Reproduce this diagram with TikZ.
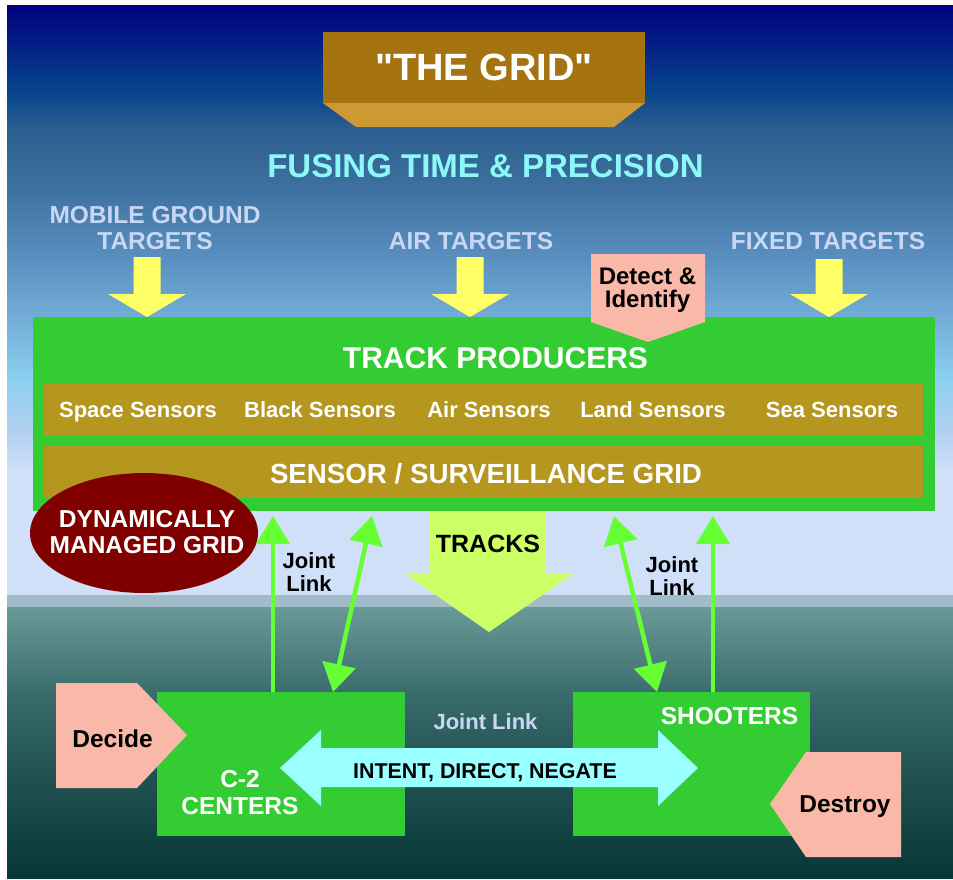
\documentclass[tikz,border=0pt]{standalone}
\usepackage{fontspec}
\setmainfont{Liberation Sans}[Ligatures=TeXOff]
\usetikzlibrary{arrows.meta,shapes.geometric}
\definecolor{gridtop}{HTML}{A67311}
\definecolor{gridbot}{HTML}{CC9933}
\definecolor{fusecol}{HTML}{8CF8F8}
\definecolor{targcol}{HTML}{C8D8F4}
\definecolor{yelarr}{HTML}{FFFF66}
\definecolor{boxgreen}{HTML}{33CC33}
\definecolor{bandgold}{HTML}{B5961F}
\definecolor{pinkbox}{HTML}{F9B8A8}
\definecolor{darkred}{HTML}{800000}
\definecolor{tracksc}{HTML}{CCFF66}
\definecolor{arrgreen}{HTML}{66FF33}
\definecolor{cyanarr}{HTML}{99FFFF}
\newcommand\bgband[4]{\shade[top color=#3,bottom color=#4] (7,#1) rectangle (953,#2);}
\begin{document}
\begin{tikzpicture}[x=1pt,y=-1pt,
  every node/.style={inner sep=0pt,outer sep=0pt},
  lbl/.style={font=\bfseries\fontsize{24.5}{26}\selectfont},
  sens/.style={anchor=base,text=white,font=\bfseries\fontsize{22}{24}\selectfont},
  blockbox/.style={anchor=north west,fill=boxgreen},
  goldband/.style={anchor=north west,fill=bandgold,minimum width=879pt,minimum height=52pt},
  garrow/.style={draw=arrgreen,line width=4.5pt,-{Triangle[length=28pt,width=33pt]}},
  gdarrow/.style={draw=arrgreen,line width=4.5pt,{Triangle[length=28pt,width=33pt]}-{Triangle[length=28pt,width=33pt]}}]
\useasboundingbox (0,0) rectangle (953,879);
\fill[white] (0,0) rectangle (953,879);
% background gradient
\definecolor{b0}{HTML}{000080}
\definecolor{b1}{HTML}{08488C}
\definecolor{b2}{HTML}{2A5C8E}
\definecolor{b3}{HTML}{3C6E9C}
\definecolor{b4}{HTML}{5A90C0}
\definecolor{b5}{HTML}{78B4DC}
\definecolor{b6}{HTML}{8CD0F0}
\definecolor{b7}{HTML}{B0D0F0}
\definecolor{b8}{HTML}{D0E0F8}
\definecolor{g0}{HTML}{A0BCC8}
\definecolor{g1}{HTML}{6A9A98}
\definecolor{g2}{HTML}{386A6A}
\definecolor{g3}{HTML}{205050}
\definecolor{g4}{HTML}{083636}
\bgband{5}{95.5}{b0}{b1}
\bgband{95}{125.5}{b1}{b2}
\bgband{125}{180.5}{b2}{b3}
\bgband{180}{260.5}{b3}{b4}
\bgband{260}{330.5}{b4}{b5}
\bgband{330}{380.5}{b5}{b6}
\bgband{380}{430.5}{b6}{b7}
\bgband{430}{470.5}{b7}{b8}
\fill[b8] (7,470) rectangle (953,595.5);
\fill[g0] (7,595) rectangle (953,607.5);
\bgband{607}{697.5}{g1}{g2}
\bgband{697}{780.5}{g2}{g3}
\bgband{780}{878}{g3}{g4}
% title
\node[anchor=north west,fill=gridtop,minimum width=322pt,minimum height=71pt] (titlebox) at (323,32) {};
\fill[gridbot] (titlebox.south west) -- (titlebox.south east) -- (614,127) -- (356,127) -- cycle;
\node[anchor=base,text=white,font=\bfseries\fontsize{38}{40}\selectfont] (title) at (484,80) {"THE GRID"};
\node[anchor=base,text=fusecol,font=\bfseries\fontsize{33}{35}\selectfont] (fusing) at (485.5,177) {FUSING TIME \& PRECISION};
% targets
\node[anchor=base,text=targcol,lbl,align=center] (mgt) at (155,249) {MOBILE GROUND\\TARGETS};
\node[anchor=base,text=targcol,lbl] (airt) at (471,249) {AIR TARGETS};
\node[anchor=base,text=targcol,lbl] (fixt) at (828,249) {FIXED TARGETS};
\foreach \cx/\ty in {147/257,470/257,829/259}{
  \fill[yelarr] (\cx-13.5,\ty) -- (\cx+13.5,\ty) -- (\cx+13.5,294) -- (\cx+39,294) -- (\cx,317) -- (\cx-39,294) -- (\cx-13.5,294) -- cycle;}
% track producers
\node[blockbox,minimum width=902pt,minimum height=194pt] (tp) at (33,317) {};
\fill[pinkbox] (591,254) -- (705,254) -- (705,322) -- (648,342) -- (591,322) -- cycle;
\node[anchor=base,text=black,align=center,font=\bfseries\fontsize{24}{23}\selectfont] (detect) at (647.5,307) {Detect \&\\Identify};
\node[anchor=base,text=white,font=\bfseries\fontsize{30}{32}\selectfont] (tptext) at (495.5,368) {TRACK PRODUCERS};
\node[goldband] (sensband) at (44,384) {};
\node[sens] (s1) at (138,417) {Space Sensors};
\node[sens] (s2) at (320,417) {Black Sensors};
\node[sens] (s3) at (489,417) {Air Sensors};
\node[sens] (s4) at (653,417) {Land Sensors};
\node[sens] (s5) at (832,417) {Sea Sensors};
\node[goldband] (gridband) at (44,446) {};
\node[anchor=base,text=white,font=\bfseries\fontsize{27.7}{30}\selectfont] (sgtext) at (486,483) {SENSOR / SURVEILLANCE GRID};
\node[ellipse,fill=darkred,minimum width=228pt,minimum height=120pt] (dmg) at (144,533) {};
\node[anchor=base,text=white,lbl,align=center] (dmgtext) at (147,553) {DYNAMICALLY\\MANAGED GRID};
% tracks arrow
\fill[tracksc] (430,511) -- (545,511) -- (545,573) -- (574,573) -- (489,632) -- (404,573) -- (430,573) -- cycle;
\node[anchor=base,text=black,font=\bfseries\fontsize{25}{27}\selectfont] (tracks) at (488,552) {TRACKS};
% lower boxes
\node[blockbox,minimum width=248pt,minimum height=144pt] (c2) at (157,692) {};
\node[blockbox,minimum width=237pt,minimum height=144pt] (sh) at (573,692) {};
% green links
\coordinate (gtop) at ([yshift=-5pt]tp.south);
\coordinate (x1) at (273,0);
\coordinate (x2) at (333,0);
\coordinate (x3) at (372,0);
\coordinate (x4) at (614,0);
\coordinate (x5) at (657,0);
\coordinate (x6) at (713,0);
\draw[garrow] (c2.north -| x1) -- (gtop -| x1);
\draw[gdarrow] (c2.north -| x2) -- (gtop -| x3);
\draw[gdarrow] (gtop -| x4) -- (sh.north -| x5);
\draw[garrow] (sh.north -| x6) -- (gtop -| x6);
\node[anchor=base,text=black,align=center,font=\bfseries\fontsize{22}{23}\selectfont] (jl1) at (309,591) {Joint\\Link};
\node[anchor=base,text=black,align=center,font=\bfseries\fontsize{22}{23}\selectfont] (jl2) at (672,595) {Joint\\Link};
% pentagons
\fill[pinkbox] (56,683) -- (137,683) -- (187,735) -- (137,788) -- (56,788) -- cycle;
\node[anchor=base,text=black,lbl] (decide) at (112.5,747) {Decide};
\fill[pinkbox] (901,752) -- (806,752) -- (770,804) -- (806,857) -- (901,857) -- cycle;
\node[anchor=base,text=black,lbl] (destroy) at (845,812) {Destroy};
% cyan double arrow
\fill[cyanarr] (280,768) -- (321,730) -- (321,748) -- (658,748) -- (658,730) -- (698,768) -- (658,806) -- (658,787) -- (321,787) -- (321,806) -- cycle;
\node[anchor=base,text=black,font=\bfseries\fontsize{21.4}{23}\selectfont] (intent) at (485,778) {INTENT, DIRECT, NEGATE};
\node[anchor=base,text=targcol,font=\bfseries\fontsize{22}{24}\selectfont] (jl3) at (485.5,729) {Joint Link};
\node[anchor=base,text=white,align=center,font=\bfseries\fontsize{24.5}{27}\selectfont] (c2text) at (240,814) {C-2\\CENTERS};
\node[anchor=base,text=white,lbl] (shtext) at (729.5,724) {SHOOTERS};
\end{tikzpicture}
\end{document}
